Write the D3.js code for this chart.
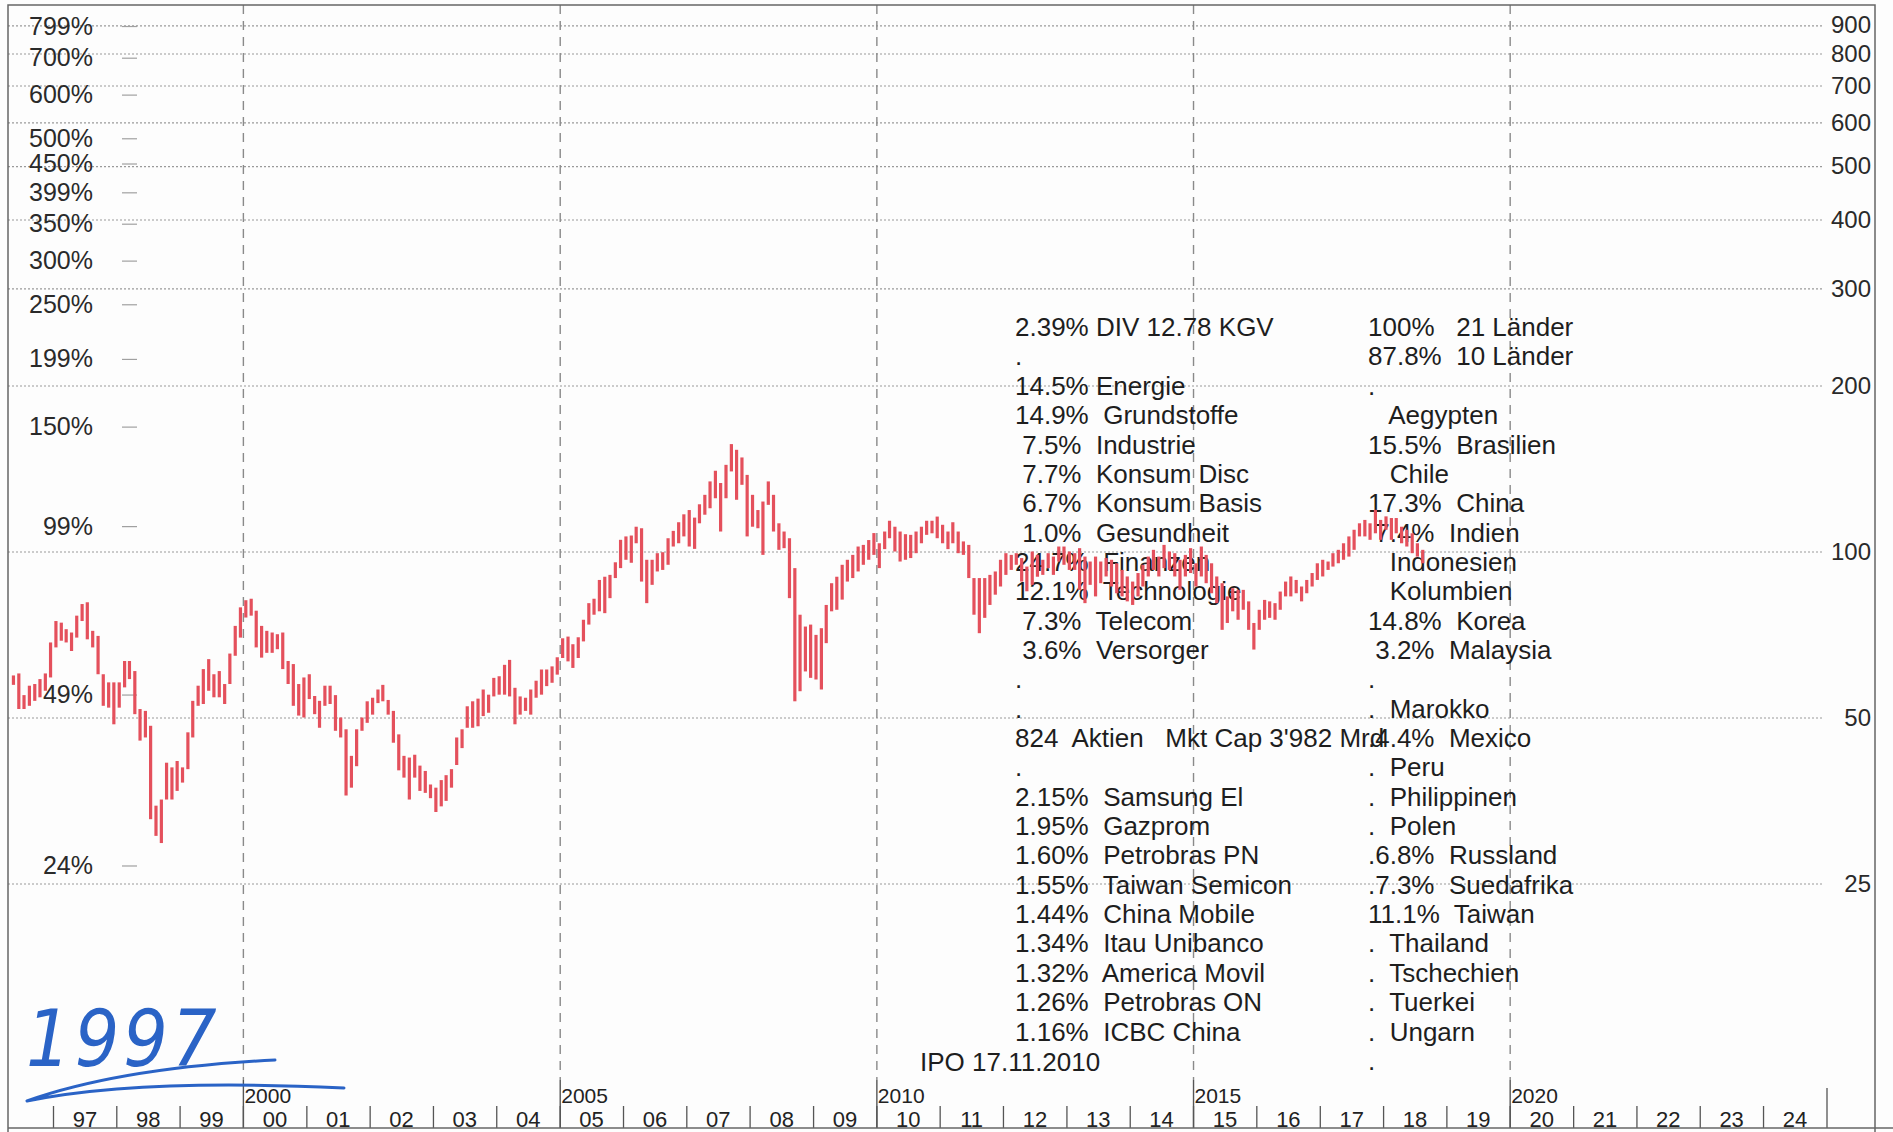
<!DOCTYPE html>
<html>
<head>
<meta charset="utf-8">
<title>Emerging Markets seit 1996</title>
<script src="https://cdn.jsdelivr.net/npm/d3@7"></script>
<style>
    body { margin: 0; background: #ffffff; }
    svg { display: block; font-family: "Liberation Sans", Arial, sans-serif; }
    .note { font-size: 26px; fill: #1e1e1e; white-space: pre; }
    .xlabel { font-family: "Liberation Sans Narrow", "Arial Narrow", "Liberation Sans", sans-serif; fill: #222; }
</style>
</head>
<body>
<div id="vis"></div>
<script>

// Data ----------------------------------------------------------------------

// Monthly bars, first one is May 1996
const START_YEAR = 1996;
const START_MONTH = 4;

const highs = [
    59.6, 60.1, 54.9, 57.1, 57.5, 58.7, 60.1, 68.4,
    74.8, 74.3, 72.3, 71.3, 76.5, 80.3, 80.9, 71.8, 70.3, 59.9, 57.9, 57.9,
    57.9, 63.3, 63.3, 60.7, 51.8, 51.4, 48.3, 34.6, 35.5, 41.4, 40.6, 41.7,
    40.6, 47.0, 53.6, 57.1, 61.2, 63.8, 59.9, 60.7, 57.5, 65.3, 73.3, 79.2,
    81.6, 82.1, 78.1, 73.3, 71.8, 71.3, 70.8, 71.3, 63.3, 62.5, 57.5, 59.1,
    59.9, 54.7, 53.6, 57.1, 57.1, 54.9, 50.0, 47.6, 42.6, 47.6, 50.0, 53.5,
    54.3, 56.2, 57.3, 53.8, 51.4, 46.6, 42.6, 42.3, 42.8, 40.9, 40.0, 37.8,
    37.3, 38.5, 39.3, 40.3, 46.0, 47.6, 52.4, 53.5, 54.1, 56.2, 55.0, 59.0,
    59.4, 62.3, 63.6, 56.6, 54.6, 54.3, 56.2, 58.3, 61.1, 61.1, 61.9, 64.3,
    69.6, 70.1, 67.9, 69.9, 75.2, 80.6, 82.1, 88.8, 90.0, 90.7, 95.6, 105.0,
    106.5, 106.9, 110.9, 110.2, 96.6, 96.6, 99.3, 99.7, 105.7, 109.0, 113.0, 116.8,
    118.9, 115.2, 121.8, 126.7, 134.0, 140.1, 133.1, 143.6, 156.6, 152.9, 148.1, 137.7,
    126.7, 118.9, 123.2, 134.0, 126.7, 112.5, 108.7, 105.7, 93.3, 76.8, 73.1, 73.7,
    70.6, 72.6, 80.0, 87.6, 90.0, 94.6, 96.6, 98.6, 102.1, 102.8, 104.9, 108.0,
    103.5, 108.7, 113.7, 110.9, 108.7, 107.5, 107.2, 108.7, 110.9, 113.7, 113.7, 115.7,
    111.8, 108.7, 113.0, 108.7, 104.3, 102.8, 89.5, 89.5, 89.5, 90.7, 92.0, 96.6,
    99.3, 98.6, 99.3, 97.3, 93.9, 100.0, 98.6, 96.6, 99.3, 97.9, 102.1, 102.1,
    100.0, 99.3, 101.4, 97.9, 95.9, 97.9, 95.9, 97.3, 96.6, 95.2, 92.6, 90.1,
    88.2, 91.4, 94.6, 97.9, 100.7, 97.9, 102.8, 100.0, 99.3, 96.6, 98.6, 101.4,
    95.2, 102.1, 98.6, 95.2, 90.1, 87.6, 82.9, 85.8, 85.2, 85.2, 81.2, 74.2,
    78.4, 81.7, 81.2, 80.6, 84.6, 88.2, 90.1, 88.8, 86.4, 88.8, 91.4, 95.2,
    96.6, 95.9, 99.3, 100.7, 103.5, 106.5, 109.5, 112.5, 114.1, 112.5, 119.0, 114.1,
    115.8, 115.0, 115.0, 110.9, 109.5, 107.9, 103.5, 100.7
];

const lows = [
    57.3, 51.8, 51.8, 52.5, 53.6, 54.4, 55.9, 59.1,
    67.0, 68.9, 68.4, 66.0, 69.8, 74.8, 69.3, 67.0, 59.9, 52.5, 52.1, 48.6,
    52.1, 56.7, 58.7, 50.7, 45.4, 46.0, 32.7, 30.5, 29.6, 35.5, 35.5, 36.8,
    38.1, 40.3, 46.0, 52.5, 52.9, 55.9, 54.4, 54.4, 52.9, 57.5, 64.7, 69.8,
    75.9, 76.5, 67.0, 64.2, 65.5, 65.5, 66.5, 61.2, 57.5, 52.5, 50.4, 50.0,
    54.0, 50.7, 47.9, 52.5, 52.9, 47.3, 46.0, 36.1, 37.3, 40.8, 47.3, 48.9,
    50.6, 53.1, 53.5, 50.6, 45.0, 40.1, 38.9, 35.5, 38.9, 36.8, 36.5, 35.7,
    33.7, 34.5, 35.3, 37.3, 41.0, 44.0, 47.9, 47.9, 48.2, 50.3, 51.0, 54.6,
    55.0, 55.0, 54.6, 48.6, 50.6, 51.4, 50.6, 54.3, 55.0, 57.0, 57.8, 59.8,
    64.1, 63.2, 61.5, 64.1, 68.7, 73.7, 76.8, 77.9, 77.3, 82.3, 89.5, 93.3,
    96.6, 95.4, 103.5, 88.2, 80.6, 87.0, 92.0, 92.6, 94.6, 102.1, 103.5, 106.5,
    102.1, 101.1, 112.5, 116.6, 119.8, 124.9, 108.7, 124.9, 139.7, 124.1, 132.1, 106.5,
    110.9, 110.2, 98.6, 121.5, 108.7, 100.7, 101.4, 82.3, 53.5, 55.8, 60.6, 59.0,
    58.6, 56.2, 68.2, 77.9, 78.4, 81.8, 88.2, 89.5, 92.0, 94.6, 96.6, 98.6,
    93.3, 101.0, 105.7, 100.0, 95.9, 96.6, 97.3, 99.3, 103.5, 107.2, 107.9, 105.7,
    103.5, 101.0, 103.5, 99.3, 98.6, 89.5, 76.8, 71.1, 75.8, 80.0, 83.5, 86.4,
    90.7, 92.6, 94.6, 88.2, 84.7, 87.0, 90.0, 90.7, 93.3, 90.7, 95.9, 94.6,
    92.6, 92.6, 85.2, 80.6, 87.0, 82.9, 87.6, 90.1, 86.4, 84.0, 82.9, 81.2,
    80.0, 82.9, 86.4, 90.1, 92.6, 90.1, 93.3, 92.6, 90.1, 85.2, 90.1, 91.4,
    86.4, 90.1, 87.6, 84.0, 80.6, 72.1, 74.2, 77.9, 75.2, 78.4, 72.1, 66.4,
    72.1, 75.2, 75.8, 75.2, 78.4, 82.9, 82.9, 84.0, 81.2, 84.0, 86.4, 88.8,
    90.1, 92.6, 93.9, 95.2, 96.6, 97.9, 100.7, 106.5, 106.5, 105.0, 107.9, 105.0,
    109.5, 105.0, 107.9, 103.5, 102.1, 99.3, 97.9, 95.2
];

const rightTicks = [900, 800, 700, 600, 500, 400, 300, 200, 100, 50, 25];
const leftTicks = [799, 700, 600, 500, 450, 399, 350, 300, 250, 199, 150, 99, 49, 24];

const years = [1997, 1998, 1999, 2000, 2001, 2002, 2003, 2004, 2005, 2006,
    2007, 2008, 2009, 2010, 2011, 2012, 2013, 2014, 2015, 2016, 2017, 2018,
    2019, 2020, 2021, 2022, 2023, 2024];
const markYears = [2000, 2005, 2010, 2015, 2020];

const sectorLines = [
    "2.39% DIV 12.78 KGV",
    ".",
    "14.5% Energie",
    "14.9%  Grundstoffe",
    " 7.5%  Industrie",
    " 7.7%  Konsum Disc",
    " 6.7%  Konsum Basis",
    " 1.0%  Gesundheit",
    "24.7%  Finanzen",
    "12.1%  Technologie",
    " 7.3%  Telecom",
    " 3.6%  Versorger",
    ".",
    ".",
    "824  Aktien   Mkt Cap 3'982 Mrd",
    ".",
    "2.15%  Samsung El",
    "1.95%  Gazprom",
    "1.60%  Petrobras PN",
    "1.55%  Taiwan Semicon",
    "1.44%  China Mobile",
    "1.34%  Itau Unibanco",
    "1.32%  America Movil",
    "1.26%  Petrobras ON",
    "1.16%  ICBC China"
];

const countryLines = [
    "100%   21 Länder",
    "87.8%  10 Länder",
    ".",
    "   Aegypten",
    "15.5%  Brasilien",
    "   Chile",
    "17.3%  China",
    " 7.4%  Indien",
    "   Indonesien",
    "   Kolumbien",
    "14.8%  Korea",
    " 3.2%  Malaysia",
    ".",
    ".  Marokko",
    ".4.4%  Mexico",
    ".  Peru",
    ".  Philippinen",
    ".  Polen",
    ".6.8%  Russland",
    ".7.3%  Suedafrika",
    "11.1%  Taiwan",
    ".  Thailand",
    ".  Tschechien",
    ".  Tuerkei",
    ".  Ungarn",
    "."
];

const IPO_NOTE = "IPO 17.11.2010";
const HAND_NOTE = "1997";

// Layout constants ----------------------------------------------------------

const WIDTH = 1893;
const HEIGHT = 1132;
const FRAME = {left: 8, top: 5, right: 1875, bottom: 1128};
const GRID_END = 1822;
const Y100 = 551.5;
const DOUBLING = 166;
const PCT_FACTOR = 1.123;
const BAR_COLOR = "#e4505c";
const INK_BLUE = "#2a63c6";

// Chart ---------------------------------------------------------------------

function buildChart(div) {

    const svg = d3.select(div)
        .append("svg")
        .attr("width", WIDTH)
        .attr("height", HEIGHT);

    svg.append("rect")
        .attr("width", WIDTH)
        .attr("height", HEIGHT)
        .attr("fill", "#fdfdfd");

    // Scales
    const y = d3.scaleLog()
        .domain([25, 900])
        .range([Y100 + 2 * DOUBLING, Y100 - DOUBLING * Math.log2(9)]);

    const yPct = d3.scaleLog()
        .domain([25 / PCT_FACTOR, 900 / PCT_FACTOR])
        .range(y.range());

    const x = d3.scaleTime()
        .domain([new Date(1997, 0, 1), new Date(2025, 0, 1)])
        .range([53.5, 1827]);

    // Horizontal grid with the index labels on the right
    svg.append("g")
        .attr("transform", `translate(${FRAME.left},0)`)
        .call(d3.axisRight(y)
            .tickValues(rightTicks)
            .tickSize(GRID_END - FRAME.left)
            .tickFormat(d3.format("d")))
        .call(g => g.select(".domain").remove())
        .call(g => g.selectAll(".tick line")
            .attr("stroke", "#9a9a9a")
            .attr("stroke-width", 1.2)
            .attr("stroke-dasharray", "2,2"))
        .call(g => g.selectAll(".tick text")
            .attr("x", 1871 - FRAME.left)
            .attr("text-anchor", "end")
            .attr("font-size", 24)
            .attr("font-family", "Liberation Sans, Arial, sans-serif")
            .attr("fill", "#2a2a2a"));

    // Percentage axis on the left
    svg.append("g")
        .attr("transform", "translate(122,0)")
        .call(d3.axisRight(yPct)
            .tickValues(leftTicks)
            .tickSize(15)
            .tickFormat(d => d + "%"))
        .call(g => g.select(".domain").remove())
        .call(g => g.selectAll(".tick line")
            .attr("stroke", "#a0a0a0")
            .attr("stroke-width", 1.2))
        .call(g => g.selectAll(".tick text")
            .attr("x", -29)
            .attr("text-anchor", "end")
            .attr("font-size", 25)
            .attr("font-family", "Liberation Sans, Arial, sans-serif")
            .attr("fill", "#2a2a2a"));

    // Five-year dashed lines
    svg.selectAll(".markline")
        .data(markYears)
        .enter()
        .append("line")
        .attr("class", "markline")
        .attr("x1", d => x(new Date(d, 0, 1)))
        .attr("x2", d => x(new Date(d, 0, 1)))
        .attr("y1", FRAME.top)
        .attr("y2", 1080)
        .attr("stroke", "#8a8a8a")
        .attr("stroke-width", 1.4)
        .attr("stroke-dasharray", "9,7");

    svg.selectAll(".marksolid")
        .data(markYears)
        .enter()
        .append("line")
        .attr("class", "marksolid")
        .attr("x1", d => x(new Date(d, 0, 1)))
        .attr("x2", d => x(new Date(d, 0, 1)))
        .attr("y1", 1080)
        .attr("y2", FRAME.bottom)
        .attr("stroke", "#555")
        .attr("stroke-width", 1.4);

    svg.selectAll(".marklabel")
        .data(markYears)
        .enter()
        .append("text")
        .attr("class", "xlabel marklabel")
        .attr("x", d => x(new Date(d, 0, 1)) + 1)
        .attr("y", 1103)
        .attr("font-size", 21)
        .text(d => d);

    // Year cells
    const edges = years.concat([years[years.length - 1] + 1]);
    svg.selectAll(".yearsep")
        .data(edges)
        .enter()
        .append("line")
        .attr("class", "yearsep")
        .attr("x1", d => x(new Date(d, 0, 1)))
        .attr("x2", d => x(new Date(d, 0, 1)))
        .attr("y1", d => d === edges[edges.length - 1] ? 1088 : 1106)
        .attr("y2", FRAME.bottom)
        .attr("stroke", "#555")
        .attr("stroke-width", 1.3);

    svg.selectAll(".yearlabel")
        .data(years)
        .enter()
        .append("text")
        .attr("class", "xlabel yearlabel")
        .attr("x", d => x(new Date(d, 6, 1)))
        .attr("y", 1127)
        .attr("text-anchor", "middle")
        .attr("font-size", 22)
        .text(d => String(d).slice(2));

    // Text block
    const lineY = i => 327 + i * 29.35;

    svg.selectAll(".sector")
        .data(sectorLines)
        .enter()
        .append("text")
        .attr("class", "note sector")
        .attr("x", 1015)
        .attr("y", (d, i) => lineY(i))
        .attr("dy", "0.35em")
        .text(d => d);

    svg.selectAll(".country")
        .data(countryLines)
        .enter()
        .append("text")
        .attr("class", "note country")
        .attr("x", 1368)
        .attr("y", (d, i) => lineY(i))
        .attr("dy", "0.35em")
        .text(d => d);

    svg.append("text")
        .attr("class", "note")
        .attr("x", 920)
        .attr("y", 1062)
        .attr("dy", "0.35em")
        .text(IPO_NOTE);

    // Monthly high-low bars
    const bars = highs.map((h, i) => ({
        date: new Date(START_YEAR, START_MONTH + i, 15),
        high: h,
        low: lows[i]
    }));

    svg.selectAll(".bar")
        .data(bars)
        .enter()
        .append("line")
        .attr("class", "bar")
        .attr("x1", d => x(d.date))
        .attr("x2", d => x(d.date))
        .attr("y1", d => y(d.high))
        .attr("y2", d => y(d.low))
        .attr("stroke", BAR_COLOR)
        .attr("stroke-width", 3.2);

    // Handwritten note
    svg.append("text")
        .attr("x", 26)
        .attr("y", 1066)
        .attr("font-size", 78)
        .attr("font-style", "italic")
        .attr("font-weight", 300)
        .attr("font-family", "Liberation Sans Narrow, DejaVu Sans Condensed, sans-serif")
        .attr("letter-spacing", 4)
        .attr("fill", INK_BLUE)
        .text(HAND_NOTE);

    const swoosh = d3.path();
    swoosh.moveTo(27, 1101);
    swoosh.quadraticCurveTo(120, 1068, 275, 1060);
    swoosh.moveTo(27, 1101);
    swoosh.quadraticCurveTo(140, 1078, 344, 1088);
    svg.append("path")
        .attr("d", swoosh.toString())
        .attr("fill", "none")
        .attr("stroke", INK_BLUE)
        .attr("stroke-width", 3)
        .attr("stroke-linecap", "round");

    // Frame
    svg.append("path")
        .attr("d", `M${FRAME.left},${HEIGHT} V${FRAME.top} H${FRAME.right} V${HEIGHT}`)
        .attr("fill", "none")
        .attr("stroke", "#666")
        .attr("stroke-width", 1.5);

    svg.append("line")
        .attr("x1", FRAME.left)
        .attr("x2", WIDTH)
        .attr("y1", FRAME.bottom)
        .attr("y2", FRAME.bottom)
        .attr("stroke", "#666")
        .attr("stroke-width", 1.5);

    return svg;
}

buildChart("#vis");

</script>
</body>
</html>
